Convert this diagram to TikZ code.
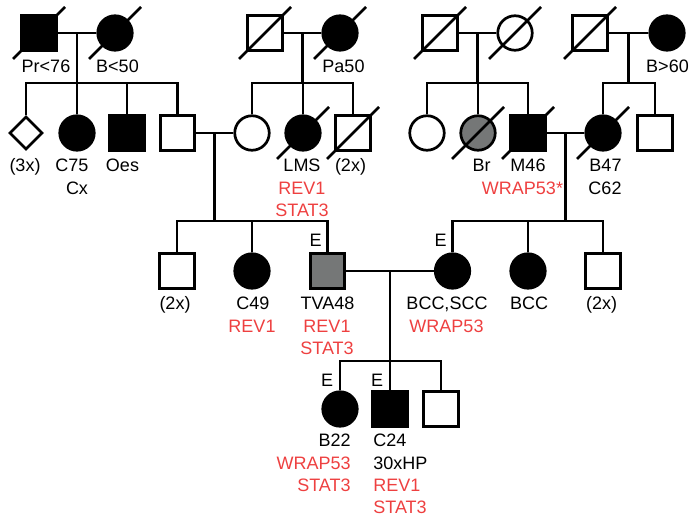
\documentclass[tikz,border=0pt]{standalone}
\usepackage{fontspec}
\setmainfont{Liberation Sans}
\usetikzlibrary{shapes.geometric,calc}
\definecolor{mred}{RGB}{238,64,64}
\definecolor{mgray}{RGB}{117,119,119}
\newcommand\deadmark[1]{\draw (#1.center) ++(-26,26) -- ++(52,-52);}
\begin{document}
\begin{tikzpicture}[x=1pt,y=-1pt, line width=2.7pt,
 sq/.style={draw, rectangle, minimum size=34.5pt, inner sep=0pt},
 ci/.style={draw, circle, minimum size=34.5pt, inner sep=0pt},
 di/.style={draw, diamond, minimum width=33pt, minimum height=33pt, inner sep=0pt},
 aff/.style={fill=black},
 part/.style={fill=mgray},
 lbl/.style={font=\fontsize{18}{21}\selectfont, anchor=base, inner sep=0pt},
 gene/.style={lbl, text=mred},
]
\useasboundingbox (0,0) rectangle (691,518);
% Generation I
\node[sq,aff] (I1) at (39,33) {};
\node[ci,aff] (I2) at (115,33) {};
\node[sq] (I3) at (265,33) {};
\node[ci,aff] (I4) at (340,33) {};
\node[sq] (I5) at (440,33) {};
\node[ci] (I6) at (515,33) {};
\node[sq] (I7) at (590,33) {};
\node[ci,aff] (I8) at (667,33) {};
\deadmark{I1}\deadmark{I2}\deadmark{I3}\deadmark{I4}\deadmark{I5}\deadmark{I6}\deadmark{I7}
% Generation II
\node[di] (II1) at (26,133) {};
\node[ci,aff] (II2) at (77,133) {};
\node[sq,aff] (II3) at (127,133) {};
\node[sq] (II4) at (177.5,133) {};
\node[ci] (II5) at (252,133) {};
\node[ci,aff] (II6) at (303,133) {};
\node[sq] (II7) at (353,133) {};
\node[ci] (II8) at (427,133) {};
\node[ci,part] (II9) at (478,133) {};
\node[sq,aff] (II10) at (528,133) {};
\node[ci,aff] (II11) at (603,133) {};
\node[sq] (II12) at (655,133) {};
\deadmark{II6}\deadmark{II7}\deadmark{II9}\deadmark{II10}\deadmark{II11}
% Generation III
\node[sq] (III1) at (177,271) {};
\node[ci,aff] (III2) at (252,271) {};
\node[sq,part] (III3) at (327.5,271) {};
\node[ci,aff] (III4) at (452.5,271) {};
\node[ci,aff] (III5) at (528,271) {};
\node[sq] (III6) at (603,271) {};
% Generation IV
\node[ci,aff] (IV1) at (340,409) {};
\node[sq,aff] (IV2) at (390,409) {};
\node[sq] (IV3) at (441,409) {};
% sibship levels
\coordinate (sA) at (0,83);
\coordinate (sB) at (0,221);
\coordinate (sC) at (0,361);
% family 1
\draw (I1) -- (I2);
\coordinate (m1) at ($(I1)!0.5!(I2)$);
\draw (m1) -- (m1|-sA);
\draw (II1.north) -- (II1|-sA) -- (II4|-sA) -- (II4.north);
\draw (II2.north) -- (II2|-sA);
\draw (II3.north) -- (II3|-sA);
% family 2
\draw (I3) -- (I4);
\coordinate (m2) at ($(I3)!0.5!(I4)$);
\draw (m2) -- (m2|-sA);
\draw (II5.north) -- (II5|-sA) -- (II7|-sA) -- (II7.north);
\draw (II6.north) -- (II6|-sA);
% family 3
\draw (I5) -- (I6);
\coordinate (m3) at ($(I5)!0.5!(I6)$);
\draw (m3) -- (m3|-sA);
\draw (II8.north) -- (II8|-sA) -- (II10|-sA) -- (II10.north);
\draw (II9.north) -- (II9|-sA);
% family 4
\draw (I7) -- (I8);
\coordinate (m4) at ($(I7)!0.5!(I8)$);
\draw (m4) -- (m4|-sA);
\draw (II11.north) -- (II11|-sA) -- (II12|-sA) -- (II12.north);
% family 5
\draw (II4) -- (II5);
\coordinate (m5) at ($(II4)!0.5!(II5)$);
\draw (m5) -- (m5|-sB);
\draw (III1.north) -- (III1|-sB) -- (III3|-sB) -- (III3.north);
\draw (III2.north) -- (III2|-sB);
% family 6
\draw (II10) -- (II11);
\coordinate (m6) at ($(II10)!0.5!(II11)$);
\draw (m6) -- (m6|-sB);
\draw (III4.north) -- (III4|-sB) -- (III6|-sB) -- (III6.north);
\draw (III5.north) -- (III5|-sB);
% family 7
\draw (III3) -- (III4);
\coordinate (m7) at ($(III3)!0.5!(III4)$);
\draw (m7) -- (m7|-sC);
\draw (IV1.north) -- (IV1|-sC) -- (IV3|-sC) -- (IV3.north);
\draw (IV2.north) -- (IV2|-sC);
% labels generation I
\node[lbl] (tI1) at (46,72.5) {Pr<76};
\node[lbl] (tI2) at (117.5,72.5) {B<50};
\node[lbl] (tI4) at (343.5,72.5) {Pa50};
\node[lbl] (tI8) at (667.5,72.5) {B>60};
% labels generation II
\node[lbl] (tII1) at (25,171.5) {(3x)};
\node[lbl] (tII2) at (72,171.5) {C75};
\node[lbl] (tII2b) at (77,195) {Cx};
\node[lbl] (tII3) at (122.5,171.5) {Oes};
\node[lbl] (tII6) at (302,171.5) {LMS};
\node[gene] (gII6a) at (302,195) {REV1};
\node[gene] (gII6b) at (302,217) {STAT3};
\node[lbl] (tII7) at (350.5,171.5) {(2x)};
\node[lbl] (tII9) at (481.5,171.5) {Br};
\node[lbl] (tII10) at (528,171.5) {M46};
\node[gene] (gII10) at (522.5,195) {WRAP53*};
\node[lbl] (tII11) at (605.5,171.5) {B47};
\node[lbl] (tII11b) at (605,195) {C62};
% labels generation III
\node[lbl] (tIII1) at (175,310) {(2x)};
\node[lbl] (tIII2) at (253,310) {C49};
\node[gene] (gIII2) at (252,333) {REV1};
\node[lbl] (eIII3) at (315.5,247) {E};
\node[lbl] (tIII3) at (327.5,310) {TVA48};
\node[gene] (gIII3a) at (327,333) {REV1};
\node[gene] (gIII3b) at (327,355) {STAT3};
\node[lbl] (eIII4) at (440.5,247) {E};
\node[lbl] (tIII4) at (447,310) {BCC,SCC};
\node[gene] (gIII4) at (446.5,332.5) {WRAP53};
\node[lbl] (tIII5) at (529,310) {BCC};
\node[lbl] (tIII6) at (601.5,310) {(2x)};
% labels generation IV
\node[lbl] (eIV1) at (327,387) {E};
\node[lbl] (eIV2) at (377,387) {E};
\node[lbl,anchor=base east] (tIV1) at (352,447) {B22};
\node[gene,anchor=base east] (gIV1a) at (352,469) {WRAP53};
\node[gene,anchor=base east] (gIV1b) at (352,492) {STAT3};
\node[lbl,anchor=base west] (tIV2) at (372,447) {C24};
\node[lbl,anchor=base west] (tIV2b) at (372,469) {30xHP};
\node[gene,anchor=base west] (gIV2a) at (372,492) {REV1};
\node[gene,anchor=base west] (gIV2b) at (372,513.5) {STAT3};
\end{tikzpicture}
\end{document}
